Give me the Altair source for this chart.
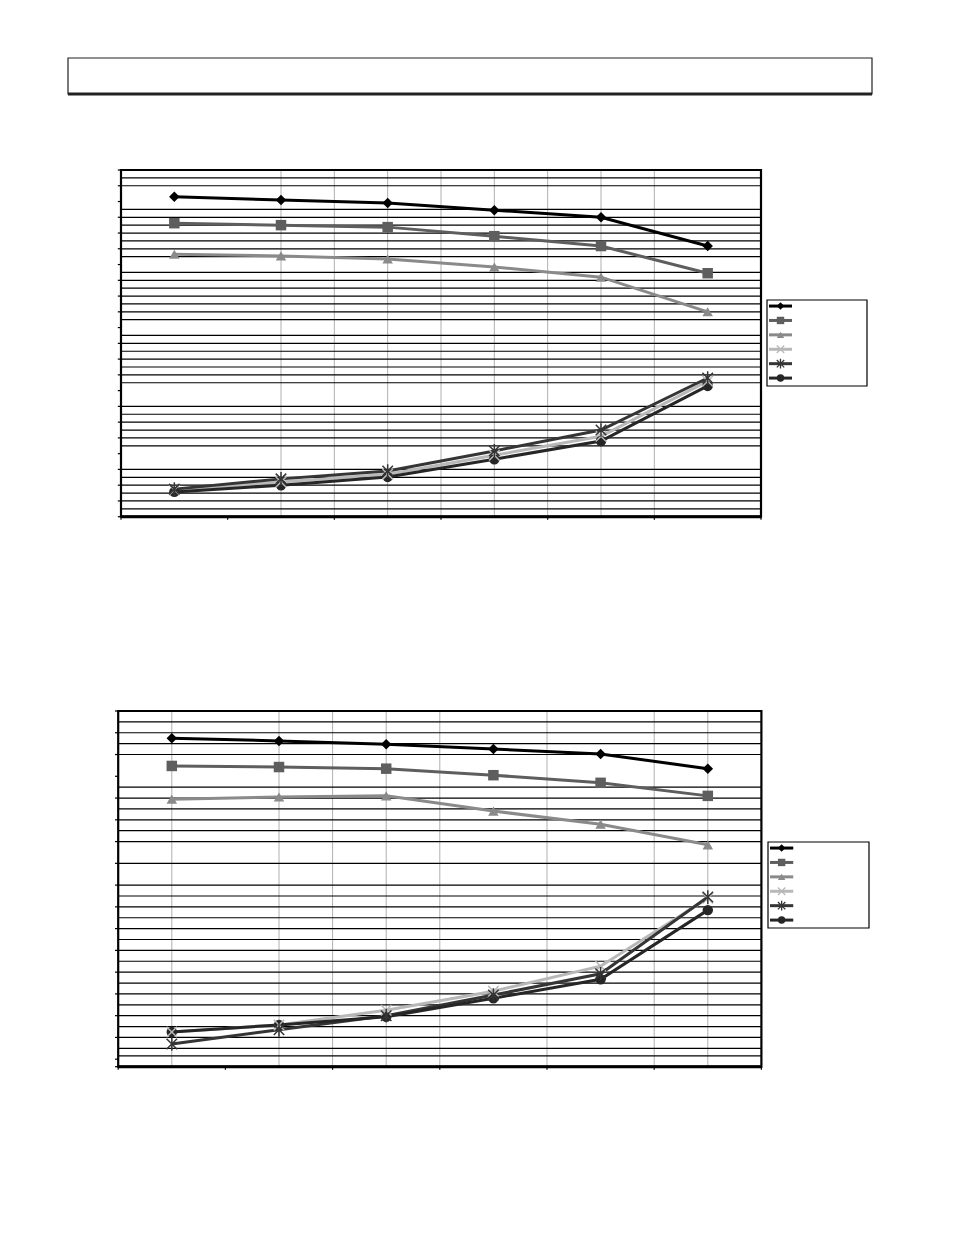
import altair as alt
import pandas as pd

# ---------------- data ----------------
series = ["S1", "S2", "S3", "S4", "S5", "S6"]
colors = ["#000000", "#5e5e5e", "#8a8a8a", "#b8b8b8", "#353535", "#262626"]
XPATH = "M-1,-1L1,1M-1,1L1,-1"
ASTER = "M-1,-1L1,1M-1,1L1,-1M0,-1.3L0,1.3"
shapes = ["diamond", "square", "triangle-up", XPATH, ASTER, "circle"]
stroked = ["S4", "S5"]

x_pos = [1, 3, 5, 7, 9, 11]

top_s1 = [40.6, 40.2, 39.8, 38.9, 38.0, 34.35]
top_s2 = [37.25, 37.0, 36.75, 35.6, 34.35, 30.9]
top_s3 = [33.3, 33.1, 32.7, 31.7, 30.4, 26.0]
top_s4 = [3.4, 4.4, 5.4, 7.8, 10.2, 17.2]
top_s5 = [3.5, 4.8, 5.8, 8.35, 11.0, 17.6]
top_s6 = [3.15, 4.0, 5.05, 7.3, 9.6, 16.6]

bot_s1 = [29.5, 29.25, 28.95, 28.5, 28.05, 26.7]
bot_s2 = [26.95, 26.85, 26.7, 26.1, 25.4, 24.2]
bot_s3 = [23.9, 24.1, 24.2, 22.8, 21.6, 19.7]
bot_s4 = [2.5, 3.15, 4.5, 6.25, 8.55, 14.8]
bot_s5 = [1.4, 2.7, 4.0, 5.9, 7.85, 14.9]
bot_s6 = [2.5, 3.15, 3.9, 5.6, 7.35, 13.7]

top_hgrid = [1, 2, 3, 4, 5, 6, 9, 10, 11, 12, 13, 14, 17, 18, 19, 20, 21, 22, 23,
             25, 26, 27, 28, 29, 30, 31, 33, 34, 35, 36, 37, 38, 39, 42, 43]
top_vgrid = [3, 4, 5, 6, 7, 8, 9, 10]
top_yticks = list(range(0, 45, 2))
bot_hgrid = [0.3, 1, 2, 3, 4, 5, 6, 7, 8, 9, 10, 11, 12, 13, 14, 15, 16, 18,
             20, 21, 22, 23, 24, 25, 28, 29, 30, 31]
bot_vgrid = [1, 3, 4, 5, 6, 8, 10, 11]
bot_yticks = list(range(0, 33, 2)) + [-0.69]
x_ticks = [0, 2, 4, 6, 8, 10, 12]


def make_df(vals):
    rows = []
    for s, vs in zip(series, vals):
        for x, v in zip(x_pos, vs):
            rows.append({"series": s, "x": x, "y": v})
    return pd.DataFrame(rows)


color_scale = alt.Scale(domain=series, range=colors)
shape_scale = alt.Scale(domain=series, range=shapes)
one = pd.DataFrame({"a": [0]})


def panel(df, xr, yr, xdom, ydom, hgrid, vgrid, yticks, tlx, tly):
    xs = alt.Scale(domain=xdom, range=xr, nice=False, zero=False)
    ys = alt.Scale(domain=ydom, range=yr, nice=False, zero=False)

    def XF(f):
        return alt.X(f, type="quantitative", scale=xs, axis=None)

    def YF(f):
        return alt.Y(f, type="quantitative", scale=ys, axis=None)

    def XD(d):
        return alt.XDatum(d, scale=xs, axis=None)

    def YD(d):
        return alt.YDatum(d, scale=ys, axis=None)

    vg = alt.Chart(pd.DataFrame({"v": vgrid})).mark_rule(
        color="#b0b0b0", strokeWidth=1
    ).encode(x=XF("v"), y=YD(ydom[0]), y2=alt.Y2Datum(ydom[1]))
    hg = alt.Chart(pd.DataFrame({"v": hgrid})).mark_rule(
        color="#000000", strokeWidth=1.2
    ).encode(y=YF("v"), x=XD(xdom[0]), x2=alt.X2Datum(xdom[1]))
    yt = alt.Chart(pd.DataFrame({"v": yticks})).mark_rule(
        color="#000000", strokeWidth=1.2
    ).encode(y=YF("v"), x=XD(xdom[0]), x2=alt.X2Datum(xdom[0] - tlx))
    xt = alt.Chart(pd.DataFrame({"v": x_ticks})).mark_rule(
        color="#000000", strokeWidth=1.2
    ).encode(x=XF("v"), y=YD(ydom[0]), y2=alt.Y2Datum(ydom[0] - tly))
    frame = alt.Chart(one).mark_rect(
        fill=None, stroke="#000000", strokeWidth=2.2
    ).encode(x=XD(xdom[0]), x2=alt.X2Datum(xdom[1]),
             y=YD(ydom[0]), y2=alt.Y2Datum(ydom[1]))
    bottom = alt.Chart(one).mark_rule(color="#000000", strokeWidth=3).encode(
        x=XD(xdom[0]), x2=alt.X2Datum(xdom[1]), y=YD(ydom[0]))
    lines = alt.Chart(df).mark_line(strokeWidth=3).encode(
        x=XF("x"), y=YF("y"),
        color=alt.Color("series:N", scale=color_scale, legend=None),
        detail="series:N")
    pts_f = alt.Chart(df).transform_filter(
        alt.FieldOneOfPredicate(field="series", oneOf=["S1", "S2", "S3", "S6"])
    ).mark_point(filled=True, size=110, opacity=1).encode(
        x=XF("x"), y=YF("y"),
        color=alt.Color("series:N", scale=color_scale, legend=None),
        shape=alt.Shape("series:N", scale=shape_scale, legend=None))
    pts_s = alt.Chart(df).transform_filter(
        alt.FieldOneOfPredicate(field="series", oneOf=stroked)
    ).mark_point(filled=False, size=110, strokeWidth=1.5, opacity=1).encode(
        x=XF("x"), y=YF("y"),
        color=alt.Color("series:N", scale=color_scale, legend=None),
        shape=alt.Shape("series:N", scale=shape_scale, legend=None))
    return alt.layer(vg, hg, yt, xt, frame, bottom, lines, pts_f, pts_s)


def legend(xr, yr):
    xs = alt.Scale(domain=[0, 1], range=xr, nice=False, zero=False)
    ys = alt.Scale(domain=[-0.42, 5.55], range=yr, nice=False, zero=False)
    ldf = pd.DataFrame({"series": series, "idx": list(range(len(series)))})
    box = alt.Chart(one).mark_rect(
        fill="#ffffff", stroke="#000000", strokeWidth=1.2
    ).encode(x=alt.XDatum(0, scale=xs, axis=None), x2=alt.X2Datum(1),
             y=alt.YDatum(-0.42, scale=ys, axis=None), y2=alt.Y2Datum(5.55))
    ln = alt.Chart(ldf).mark_rule(strokeWidth=3).encode(
        x=alt.XDatum(0.02, scale=xs, axis=None), x2=alt.X2Datum(0.25),
        y=alt.Y("idx:Q", scale=ys, axis=None),
        color=alt.Color("series:N", scale=color_scale, legend=None))
    pf = alt.Chart(ldf).transform_filter(
        alt.FieldOneOfPredicate(field="series", oneOf=["S1", "S2", "S3", "S6"])
    ).mark_point(filled=True, size=55, opacity=1).encode(
        x=alt.XDatum(0.135, scale=xs, axis=None),
        y=alt.Y("idx:Q", scale=ys, axis=None),
        color=alt.Color("series:N", scale=color_scale, legend=None),
        shape=alt.Shape("series:N", scale=shape_scale, legend=None))
    ps = alt.Chart(ldf).transform_filter(
        alt.FieldOneOfPredicate(field="series", oneOf=stroked)
    ).mark_point(filled=False, size=55, strokeWidth=1.3, opacity=1).encode(
        x=alt.XDatum(0.135, scale=xs, axis=None),
        y=alt.Y("idx:Q", scale=ys, axis=None),
        color=alt.Color("series:N", scale=color_scale, legend=None),
        shape=alt.Shape("series:N", scale=shape_scale, legend=None))
    return alt.layer(box, ln, pf, ps)


def title_box():
    xs = alt.Scale(domain=[0, 1], range=[60, 864], nice=False, zero=False)
    ys = alt.Scale(domain=[0, 1], range=[86, 50], nice=False, zero=False)
    r = alt.Chart(one).mark_rect(
        fill="#ffffff", stroke="#222222", strokeWidth=1.2
    ).encode(x=alt.XDatum(0, scale=xs, axis=None), x2=alt.X2Datum(1),
             y=alt.YDatum(0, scale=ys, axis=None), y2=alt.Y2Datum(1))
    b = alt.Chart(one).mark_rule(color="#222222", strokeWidth=3).encode(
        x=alt.XDatum(0, scale=xs, axis=None), x2=alt.X2Datum(1),
        y=alt.YDatum(0, scale=ys, axis=None))
    return alt.layer(r, b)


df_top = make_df([top_s1, top_s2, top_s3, top_s4, top_s5, top_s6])
df_bot = make_df([bot_s1, bot_s2, bot_s3, bot_s4, bot_s5, bot_s6])

p1 = panel(df_top, [113, 753], [508.7, 162], [0, 12], [0, 44],
           top_hgrid, top_vgrid, top_yticks, 0.06, 0.4)
p2 = panel(df_bot, [110.2, 753.4], [1058.7, 703], [0, 12], [-0.69, 32],
           bot_hgrid, bot_vgrid, bot_yticks, 0.06, 0.28)
l1 = legend([759, 859], [292, 378])
l2 = legend([760, 861], [834, 920])

chart = alt.layer(title_box(), p1, l1, p2, l2).resolve_scale(
    x="independent", y="independent"
).properties(
    width=938, height=1219, autosize="none", padding=0
).configure_view(stroke=None)

chart.save("out.html", embed_options={"renderer": "svg", "actions": False})
